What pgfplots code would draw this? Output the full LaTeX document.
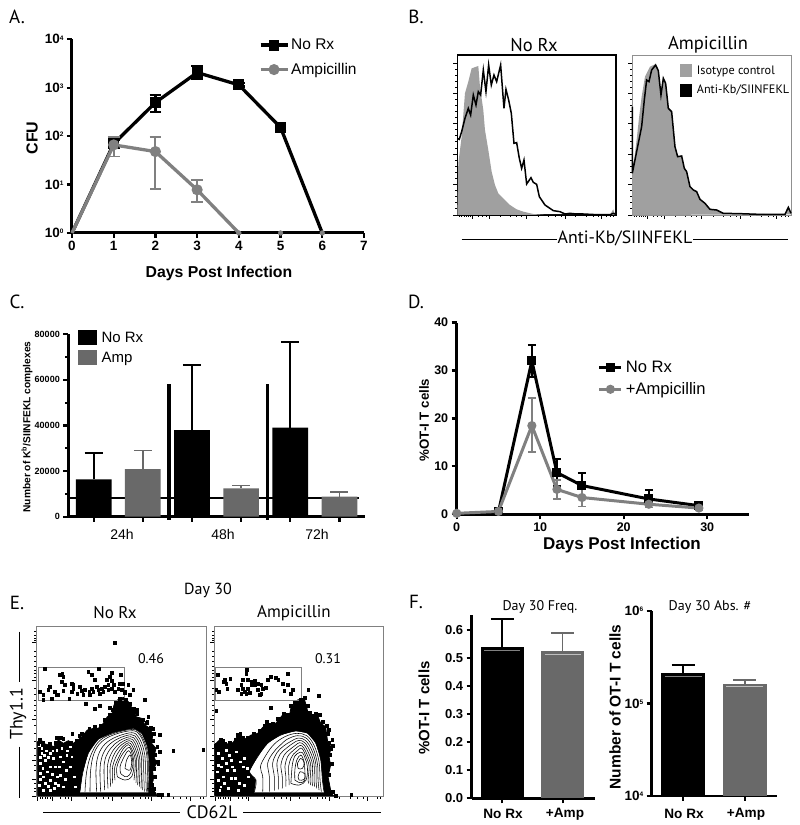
\documentclass[border=0pt]{standalone}
\usepackage{fontspec}
\setmainfont{Liberation Sans}
\newfontfamily\myr{PT Sans}
\usepackage{pgfplots}
\pgfplotsset{compat=1.18}
\newcommand{\fs}[1]{\fontsize{#1}{#1}\selectfont}
\newcommand{\xp}[1]{10\raisebox{3.8pt}{\fs{6.5}#1}}
\definecolor{gl}{HTML}{808080}
\definecolor{gb}{HTML}{696969}
\definecolor{gh}{HTML}{A0A0A0}
\definecolor{gf}{HTML}{909090}
\pgfplotsset{
 prism/.style={scale only axis,clip=false,axis lines=left,axis line style={-,line width=#1,black},
   tick align=outside,tick style={black,line width=2.2pt},major tick length=5pt,
   xminorticks=false,yminorticks=false,scaled ticks=false,
   legend cell align=left,
   legend style={draw=none,fill=none,inner sep=0pt,outer sep=0pt}},
 linekey/.style={legend image code/.code={\draw[##1,mark indices={2}] plot coordinates {(0pt,0pt)(#1/2,0pt)(#1,0pt)};}},
 flow/.style={scale only axis,clip=false,y dir=reverse,ymin=20,ymax=530,xmin=18,xmax=528,
   xticklabels={},yticklabels={},tick align=outside,tick style={black,line width=.7pt},
   major tick length=4pt,minor tick length=2pt,axis line style={gl,line width=.7pt},
   ytick pos=left,xtick pos=left,
   ytick={68,180,298,422,478,528},
   minor ytick={35,45,55,62,95,110,125,140,150,160,172,205,222,240,255,270,285,315,340,365,385,405,435,450,490,505,515},
   xtick={22,68,123,248,365,480},
   minor xtick={30,38,45,52,60,90,105,115,170,200,220,235,275,310,330,345,355,395,430,450,470,510,520}},
 hist/.style={scale only axis,clip=false,y dir=reverse,ymin=15,ymax=495,xmin=22,xmax=498,
   xticklabels={},yticklabels={},tick align=outside,tick style={black,line width=.7pt},
   major tick length=4pt,minor tick length=2pt,legend cell align=left,
   legend style={draw=none,fill=none,inner sep=0pt,outer sep=0pt},
   ytick pos=left,xtick pos=left,
   ytick={40,130,220,313,403,495},
   minor ytick={58,76,94,112,148,166,184,202,238,256,275,294,331,349,367,385,421,439,457,476},
   xtick={68,118,230,345,455},
   minor xtick={28,35,42,48,55,62,85,97,108,150,180,200,215,265,295,315,335,375,410,430,445,470,480,490}},
 cloud/.style={fill=black,draw=black,line width=.8pt,forget plot},
 dots/.style={only marks,mark=square*,mark size=1.35pt,black,mark options={draw=black,fill=black},forget plot},
 spk/.style={only marks,mark=square*,mark size=.9pt,mark options={draw=white,fill=white},forget plot},
 cnt/.style={black,line width=.55pt,smooth,tension=.6,forget plot},
 gate/.style={gl,line width=.9pt,forget plot},
}
\begin{document}
\begin{tikzpicture}
\useasboundingbox (0,0) rectangle (800pt,825pt);
% ---------- Panel letters and free text
\node[font=\myr\fs{19}] at (17pt,808pt) {A.};
\node[font=\myr\fs{19}] at (416pt,808pt) {B.};
\node[font=\myr\fs{19}] at (17pt,523pt) {C.};
\node[font=\myr\fs{19}] at (416pt,523pt) {D.};
\node[font=\myr\fs{19}] at (17pt,222pt) {E.};
\node[font=\myr\fs{19}] at (416pt,223pt) {F.};
% ---------- A
\begin{axis}[prism=3pt,at={(72pt,592pt)},anchor=south west,width=292pt,height=193.7pt,
 xmin=0,xmax=7,ymin=1,ymax=10000,ymode=log,log origin=infty,
 xtick={0,1,2,3,4,5,6,7},ytick={1,10,100,1000,10000},
 xticklabels={0,1,2,3,4,5,6,7},
 yticklabels={\xp{0},\xp{1},\xp{2},\xp{3},\xp{4}},
 tick label style={font=\bfseries\fs{13.5}},
 linekey=27pt,
 legend style={at={(0.64,0.906)},anchor=west,font=\fs{15.5},row sep=8pt}]
\addplot[black,line width=3.3pt,mark=square*,mark size=3.8pt,mark indices={2,3,4,5,6},
 error bars/.cd,y dir=both,y explicit,error bar style={line width=2.3pt},
 error mark options={rotate=90,mark size=5.8pt,line width=2.3pt,black}]
 coordinates {(0,1) (1,70)+=(0,12)-=(0,12) (2,494)+=(0,218)-=(0,182) (3,2055)+=(0,765)-=(0,505) (4,1144)+=(0,90)-=(0,90) (5,151)+=(0,14)-=(0,14) (6,1)};
\addplot[gl,line width=3.3pt,mark=*,mark size=3.8pt,mark options={fill=gl,draw=gl},mark indices={2,3,4},
 error bars/.cd,y dir=both,y explicit,error bar style={line width=1.9pt,gl},
 error mark options={rotate=90,mark size=5.8pt,line width=1.9pt,gl}]
 coordinates {(0,1) (1,66)+=(0,32)-=(0,28) (2,48)+=(0,46)-=(0,40) (3,7.8)+=(0,4.8)-=(0,3.4) (4,1)};
\addplot[gl,only marks,mark=*,mark size=2.4pt,mark options={fill=gl,draw=gl},forget plot] coordinates {(4,1)(5,1)(6,1)};
\legend{No Rx,Ampicillin}
\end{axis}
\node[font=\bfseries\fs{15.8}] at (219pt,552pt) {Days Post Infection};
\node[font=\bfseries\fs{16},rotate=90] at (32pt,687pt) {CFU};
% ---------- B
\begin{axis}[hist,at={(457.3pt,610pt)},anchor=south west,width=158.7pt,height=160pt,axis line style={black,line width=1.2pt}]
\addplot[fill=gh,draw=none,forget plot] coordinates {(22,495)(25,340)(35,260)(45,130)(55,95)(65,55)(85,48)(90,110)(100,180)(105,240)(115,300)(125,365)(135,405)(145,430)(160,445)(180,465)(200,478)(220,485)(250,492)(290,495)(480,495)(486,484)(490,478)(494,495)};
\addplot[black,line width=1.5pt,forget plot] coordinates {(22,265)(28,268)(35,245)(45,205)(55,175)(62,195)(70,135)(78,165)(85,125)(92,135)(100,60)(108,125)(116,45)(124,105)(132,75)(140,95)(152,45)(162,175)(168,118)(176,150)(184,190)(192,280)(200,278)(208,325)(215,355)(222,330)(230,402)(243,383)(250,397)(260,403)(268,440)(285,465)(310,482)(330,485)(345,492)(360,490)(380,492)(400,492)(440,494)(480,494)(490,490)(498,492)};
\end{axis}
\begin{axis}[hist,at={(632.3pt,610pt)},anchor=south west,width=158.7pt,height=160pt,axis line style={gf,line width=.9pt},
 legend image code/.code={\fill[#1,draw=none] (0pt,-6.5pt) rectangle (12pt,6.5pt);},
 legend style={at={(0.30,0.84)},anchor=west,font=\myr\fs{12.2},row sep=5.5pt},
 legend style={/tikz/every odd column/.append style={column sep=3pt}}]
\addlegendimage{fill=gh}
\addlegendimage{fill=black}
\addplot[fill=gh,draw=none,forget plot] coordinates {(22,495)(22,370)(25,350)(35,270)(42,205)(50,140)(60,80)(75,50)(90,43)(100,60)(108,135)(115,85)(122,100)(130,175)(140,185)(150,290)(158,320)(170,318)(178,355)(185,365)(195,410)(205,420)(215,425)(225,448)(240,460)(255,478)(275,480)(295,490)(480,493)(490,475)(498,493)};
\addplot[black,line width=1.5pt,forget plot] coordinates {(22,170)(22,370)(32,320)(42,270)(50,230)(58,150)(65,90)(72,95)(80,60)(92,45)(100,62)(108,135)(115,85)(122,100)(130,175)(140,185)(150,290)(158,320)(170,318)(178,355)(185,365)(195,410)(205,420)(215,425)(225,448)(240,460)(255,478)(275,480)(295,490)(345,491)(400,493)(480,493)(490,472)(498,490)};
\legend{Isotype control,Anti-Kb/SIINFEKL}
\end{axis}
\node[font=\myr\fs{18.5}] at (534pt,780pt) {No Rx};
\node[font=\myr\fs{18.5}] at (708pt,780pt) {Ampicillin};
\node[font=\myr\fs{17.8}] at (625pt,587pt) {Anti-Kb/SIINFEKL};
\draw[line width=.9pt] (461.7pt,586pt) -- (556.7pt,586pt) (693pt,586pt) -- (788pt,586pt);
% ---------- C
\begin{axis}[prism=2.4pt,at={(68.3pt,308.3pt)},anchor=south west,width=296.7pt,height=182.4pt,
 xmin=-0.516,xmax=5.52,ymin=0,ymax=80000,
 xtick={0,1,2,3,4,5},xticklabels={},
 ytick={0,20000,40000,60000,80000},yticklabels={0,20000,40000,60000,80000},
 yminorticks=true,minor y tick num=1,minor tick length=3pt,
 tick label style={font=\bfseries\fs{9}},
 legend image code/.code={\fill[#1,draw=none] (0pt,-7.5pt) rectangle (19pt,7.5pt);},
 legend style={at={(0.031,1.024)},anchor=north west,font=\fs{15},row sep=4pt},
 legend style={/tikz/every odd column/.append style={column sep=3pt}}]
\addlegendimage{fill=black}
\addlegendimage{fill=gb}
\addplot[black,line width=2pt,forget plot] coordinates {(-0.516,8044)(5.39,8044)};
\addplot[black,line width=3.3pt,forget plot] coordinates {(1.533,58060)(1.533,-1460)};
\addplot[black,line width=3.3pt,forget plot] coordinates {(3.535,58060)(3.535,-1460)};
\addplot[ybar,bar width=0.726,bar shift=0pt,fill=black,draw=none,forget plot,
 error bars/.cd,y dir=plus,y explicit,error bar style={line width=1.9pt,black},
 error mark options={rotate=90,mark size=9pt,line width=1.9pt,black}]
 coordinates {(0,16380)+=(0,11700) (2,38000)+=(0,28700) (4,39050)+=(0,37450)};
\addplot[ybar,bar width=0.726,bar shift=0pt,fill=gb,draw=none,forget plot,
 error bars/.cd,y dir=plus,y explicit,error bar style={line width=1.5pt,gb},
 error mark options={rotate=90,mark size=9pt,line width=1.5pt,gb}]
 coordinates {(1,20900)+=(0,8200) (3,12430)+=(0,1170) (5,8775)+=(0,2025)};
\legend{No Rx,Amp}
\end{axis}
\node[font=\fs{14}] at (122pt,291pt) {24h};
\node[font=\fs{14}] at (223pt,291pt) {48h};
\node[font=\fs{14}] at (317pt,291pt) {72h};
\node[font=\bfseries\fs{10.2},rotate=90] at (27pt,398pt) {Number of K\textsuperscript{b}/SIINFEKL complexes};
% ---------- D
\begin{axis}[prism=2.8pt,at={(456.7pt,310.7pt)},anchor=south west,width=292.3pt,height=191.7pt,
 xmin=0,xmax=35,ymin=0,ymax=40,
 xtick={0,10,20,30},xticklabels={0,10,20,30},
 ytick={0,10,20,30,40},yticklabels={0,10,20,30,40},
 tick label style={font=\bfseries\fs{12.5}},
 linekey=22pt,
 legend style={at={(0.483,0.708)},anchor=west,font=\fs{16.6},row sep=4.5pt},
 legend style={/tikz/every odd column/.append style={column sep=1pt}}]
\addplot[black,line width=3pt,mark=square*,mark size=3pt,
 error bars/.cd,y dir=both,y explicit,error bar style={line width=1.8pt},
 error mark options={rotate=90,mark size=4pt,line width=1.8pt,black}]
 coordinates {(5,0.5) (9,32)+=(0,3.3)-=(0,3.3) (12,8.7)+=(0,2.8)-=(0,2.8) (15,6)+=(0,2.7)-=(0,2.7) (23,3.2)+=(0,1.8)-=(0,1.8) (29,1.8)+=(0,.4)-=(0,.4)};
\addplot[gl,line width=3pt,mark=*,mark size=3pt,mark options={fill=gl,draw=gl},
 error bars/.cd,y dir=both,y explicit,error bar style={line width=1.7pt,gl},
 error mark options={rotate=90,mark size=4pt,line width=1.7pt,gl}]
 coordinates {(0,0.2) (5,0.6) (9,18.5)+=(0,5.8)-=(0,5.5) (12,5.2)+=(0,2)-=(0,2) (15,3.5)+=(0,2)-=(0,1.9) (23,2.1)+=(0,.7)-=(0,.7) (29,1.3)+=(0,.4)-=(0,.4)};
\legend{No Rx,+Ampicillin}
\end{axis}
\node[font=\bfseries\fs{17}] at (622pt,280pt) {Days Post Infection};
\node[font=\bfseries\fs{13.3},rotate=90] at (424pt,405pt) {\%OT-I T cells};
% ---------- E panel 1
\begin{axis}[flow,at={(36pt,28.3pt)},anchor=south west,width=170pt,height=170pt]
\addplot[cloud] coordinates {(22,525)(22,365)(35,362)(45,372)(58,375)(72,380)(85,360)(100,370)(115,362)(130,370)(150,355)(160,345)(172,330)(190,325)(205,325)(220,310)(232,290)(245,285)(252,255)(262,240)(280,232)(295,245)(305,262)(315,268)(318,290)(335,295)(345,315)(360,325)(368,345)(365,370)(378,385)(372,410)(380,430)(368,450)(370,480)(362,500)(378,520)(380,528)(22,528)};
\addplot[fill=white,draw=none,forget plot] coordinates {(150,517)(158,460)(175,400)(205,358)(250,338)(310,325)(335,340)(352,380)(358,430)(355,517)};
\addplot[spk] coordinates {(35,385)(35,400)(48,392)(45,420)(60,440)(75,440)(30,460)(45,490)(60,480)(75,490)(90,465)(30,430)(110,405)(90,410)(60,400)(120,440)(135,500)(40,510)(28,495)(70,415)(82,470)(60,510)(105,478)(100,500)(80,390)(120,380)
 (28,375)(30,412)(42,405)(55,412)(38,445)(52,455)(66,462)(30,478)(40,470)(72,505)(85,495)(88,440)(100,425)(68,392)(95,385)(108,450)(125,410)(133,470)(55,498)(112,392)};
\addplot[dots] coordinates {(45,147)(97,160)(90,165)(100,170)(175,155)(207,147)(185,165)(195,178)(245,157)(240,170)(273,163)(230,178)(245,183)(270,190)(280,192)(95,185)(105,195)(125,190)(130,195)(150,200)(60,200)(55,210)(30,215)(40,225)(75,215)(85,225)(100,212)(130,205)(125,215)(142,222)(155,212)(165,210)(178,215)(180,225)(190,215)(205,210)(215,205)(225,200)(235,195)(245,205)(252,195)(210,220)(220,215)(235,210)(255,215)(265,205)(275,210)(285,215)(65,235)(80,225)(118,235)(160,225)(185,205)(200,200)(40,240)(255,68)(168,252)(195,265)(210,258)(345,238)(310,210)(295,195)(240,285)(430,393)(520,388)(355,290)(390,345)(390,395)(415,525)(395,525)(80,353)(127,340)(100,355)(300,225)(320,268)(285,218)(385,430)(372,505)(30,360)(60,372)(352,305)(368,325)};
\addplot[dots] coordinates {(25,372)(40,368)(52,380)(66,383)(78,368)(92,352)(108,375)(122,368)(140,362)(155,340)(165,350)(178,325)(195,320)(212,318)(225,300)(238,283)(247,270)(258,248)(270,236)(288,238)(300,252)(312,265)(322,282)(340,298)(350,308)(363,322)(372,340)(368,362)(382,380)(376,405)(384,425)(372,445)(374,470)(366,495)(385,523)(240,262)(262,262)(232,305)(148,348)};
\addplot[gate] coordinates {(25,142)(283,142)(283,242)(25,242)(25,142)};
\addplot[cnt] coordinates {(150,515)(158,460)(175,400)(205,358)(250,338)(310,325)(335,340)(352,380)(358,430)(355,515)};
\addplot[cnt] coordinates {(165,515)(170,455)(184,402)(210,361)(252,340)(309,328)(332,343)(349,382)(355,430)(352,515)};
\addplot[cnt] coordinates {(180,515)(182,450)(192,400)(215,365)(255,343)(308,332)(330,346)(346,384)(352,430)(350,515)};
\addplot[cnt] coordinates {(200,515)(198,450)(205,405)(225,372)(260,350)(306,338)(326,352)(341,388)(346,430)(344,515)};
\addplot[cnt] coordinates {(212,515)(210,450)(216,410)(234,378)(264,356)(304,344)(322,357)(336,392)(340,430)(338,510)};
\addplot[cnt] coordinates {(224,510)(222,450)(226,415)(243,384)(268,362)(302,350)(318,362)(331,396)(335,430)(333,505)};
\addplot[cnt] coordinates {(234,505)(232,450)(236,420)(250,390)(272,368)(300,356)(314,367)(326,400)(330,430)(328,500)};
\addplot[cnt] coordinates {(242,500)(240,450)(244,424)(256,396)(275,374)(298,362)(310,372)(322,404)(325,430)(323,495)};
\addplot[cnt] coordinates {(248,490)(247,450)(251,428)(262,402)(278,380)(296,368)(307,378)(318,408)(320,432)(318,488)};
\addplot[cnt] coordinates {(255,480)(253,450)(258,430)(268,408)(280,386)(295,374)(304,384)(314,410)(316,435)(312,480)};
\addplot[cnt] coordinates {(262,470)(260,445)(270,415)(285,392)(298,382)(308,405)(312,435)(305,470)(285,480)(262,470)};
\addplot[cnt] coordinates {(272,460)(270,440)(280,415)(295,392)(306,410)(308,440)(298,465)(285,470)(272,460)};
\addplot[cnt] coordinates {(285,445)(290,420)(300,405)(305,425)(300,450)(285,445)};
\end{axis}
% ---------- E panel 2
\begin{axis}[flow,at={(214pt,28.3pt)},anchor=south west,width=169pt,height=170pt]
\addplot[cloud] coordinates {(20,525)(20,375)(32,362)(42,365)(60,372)(75,368)(95,340)(110,358)(130,345)(150,340)(165,322)(180,310)(200,315)(225,285)(245,290)(250,265)(270,240)(290,235)(298,262)(302,282)(330,285)(340,310)(355,320)(358,345)(362,370)(372,380)(365,410)(370,435)(362,470)(372,520)(380,528)(20,528)};
\addplot[fill=white,draw=none,forget plot] coordinates {(140,517)(145,480)(125,455)(150,410)(180,370)(220,345)(265,333)(300,340)(325,370)(340,420)(345,480)(350,517)};
\addplot[spk] coordinates {(30,435)(40,440)(55,430)(70,420)(45,470)(70,475)(30,480)(85,395)(35,510)(60,505)(95,490)(120,470)(105,440)(80,450)(55,390)(30,400)(110,415)
 (42,415)(28,455)(58,450)(72,440)(48,490)(82,475)(92,510)(110,495)(65,405)(98,425)(38,500)(118,445)};
\addplot[dots] coordinates {(30,165)(50,178)(47,185)(55,190)(58,205)(67,175)(25,210)(32,215)(117,150)(115,160)(105,180)(120,180)(130,185)(140,183)(100,195)(90,208)(105,205)(110,215)(120,205)(130,195)(140,195)(150,190)(160,195)(175,203)(165,205)(150,210)(155,225)(160,220)(125,218)(115,222)(100,220)(180,180)(190,170)(205,172)(212,180)(240,160)(225,190)(240,195)(230,212)(255,210)(250,222)(302,208)(335,228)(190,263)(25,272)(432,525)(285,240)(270,248)(97,342)(185,315)(375,358)(372,385)(365,330)(338,285)(45,362)(25,375)};
\addplot[dots] coordinates {(24,378)(38,360)(50,370)(66,368)(82,360)(90,345)(105,352)(120,352)(138,340)(155,333)(170,318)(178,305)(195,312)(210,295)(228,282)(240,285)(250,258)(262,248)(278,238)(292,232)(300,258)(306,278)(325,282)(345,305)(358,318)(362,340)(366,368)(376,378)(369,405)(374,430)(366,465)(376,515)(385,526)(228,288)(215,300)};
\addplot[gate] coordinates {(22,142)(283,142)(283,242)(22,242)(22,142)};
\addplot[cnt] coordinates {(140,515)(145,480)(125,455)(150,410)(180,370)(220,345)(265,333)(300,340)(325,370)(340,420)(345,480)(350,515)};
\addplot[cnt] coordinates {(165,515)(165,470)(158,440)(175,405)(200,372)(232,350)(267,340)(298,347)(320,376)(335,425)(338,480)(342,515)};
\addplot[cnt] coordinates {(185,515)(185,470)(180,430)(195,400)(215,378)(240,357)(270,347)(296,354)(316,382)(330,430)(332,480)(335,510)};
\addplot[cnt] coordinates {(200,512)(200,470)(195,430)(208,398)(228,378)(250,364)(272,354)(294,361)(312,388)(325,430)(326,480)(328,505)};
\addplot[cnt] coordinates {(212,508)(212,470)(208,430)(218,402)(237,384)(256,370)(274,361)(292,368)(308,394)(320,432)(320,480)(322,500)};
\addplot[cnt] coordinates {(224,505)(224,470)(220,435)(230,405)(245,390)(262,377)(276,368)(290,375)(304,400)(315,434)(314,480)(316,498)};
\addplot[cnt] coordinates {(235,500)(235,470)(232,440)(240,410)(252,396)(266,384)(278,376)(288,382)(300,406)(310,436)(308,480)(310,495)};
\addplot[cnt] coordinates {(245,495)(244,470)(243,440)(250,415)(258,402)(270,392)(280,384)(287,390)(296,410)(305,438)(302,480)(304,490)};
\addplot[cnt] coordinates {(250,490)(252,460)(255,430)(262,408)(275,398)(285,398)(293,415)(300,440)(296,480)(275,495)(250,490)};
\addplot[cnt] coordinates {(262,480)(262,450)(268,420)(280,405)(290,425)(292,450)(292,480)(278,488)(262,480)};
\addplot[cnt] coordinates {(272,470)(278,455)(292,462)(290,478)(275,480)(272,470)};
\addplot[cnt] coordinates {(270,430)(280,415)(290,428)(285,445)(272,445)(270,430)};
\end{axis}
\node[font=\myr\fs{16}] at (208pt,235pt) {Day 30};
\node[font=\myr\fs{17}] at (115pt,212pt) {No Rx};
\node[font=\myr\fs{17}] at (294pt,212pt) {Ampicillin};
\node[font=\myr\fs{14}] at (151pt,166pt) {0.46};
\node[font=\myr\fs{14}] at (328pt,166pt) {0.31};
\node[font=\myr\fs{18},rotate=90] at (18pt,111pt) {Thy1.1};
\draw[line width=.9pt] (19pt,193.3pt) -- (19pt,143.3pt) (19pt,78.3pt) -- (19pt,27pt);
\node[font=\myr\fs{18}] at (212pt,13pt) {CD62L};
\draw[line width=.9pt] (43pt,13pt) -- (180pt,13pt) (243pt,13pt) -- (381pt,13pt);
% ---------- F left
\begin{axis}[prism=2.8pt,at={(471.7pt,26.7pt)},anchor=south west,width=123.3pt,height=183.2pt,
 xmin=-0.508,xmax=1.536,ymin=0,ymax=0.653,
 xtick={0,1},xticklabels={},
 ytick={0,0.1,0.2,0.3,0.4,0.5,0.6},yticklabels={0.0,0.1,0.2,0.3,0.4,0.5,0.6},
 tick label style={font=\bfseries\fs{13}}]
\addplot[ybar,bar width=0.718,bar shift=0pt,fill=black,draw=none,forget plot,
 error bars/.cd,y dir=plus,y explicit,error bar style={line width=2pt,black},
 error mark options={rotate=90,mark size=11.5pt,line width=2pt,black}]
 coordinates {(0,0.539)+=(0,0.099)};
\addplot[ybar,bar width=0.718,bar shift=0pt,fill=gb,draw=none,forget plot,
 error bars/.cd,y dir=plus,y explicit,error bar style={line width=1.6pt,gb},
 error mark options={rotate=90,mark size=11.5pt,line width=1.6pt,gb}]
 coordinates {(1,0.524)+=(0,0.065)};
\addplot[gray,line width=.7pt,forget plot] coordinates {(-0.3,0.528)(0.3,0.528)};
\addplot[lightgray,line width=.7pt,forget plot] coordinates {(0.7,0.512)(1.3,0.512)};
\end{axis}
\node[font=\myr\fs{14}] at (540pt,218pt) {Day 30 Freq.};
\node[font=\bfseries\fs{15},rotate=90] at (424pt,117pt) {\%OT-I T cells};
\node[font=\bfseries\fs{13.6}] at (503pt,11pt) {No Rx};
\node[font=\bfseries\fs{13.6}] at (565pt,11pt) {+Amp};
% ---------- F right
\begin{axis}[prism=2.8pt,at={(651.7pt,29pt)},anchor=south west,width=125pt,height=185pt,
 xmin=-0.508,xmax=1.519,ymin=10000,ymax=1000000,ymode=log,log origin=infty,
 xtick={0,1},xticklabels={},
 ytick={10000,100000,1000000},yticklabels={\xp{4},\xp{5},\xp{6}},
 tick label style={font=\bfseries\fs{13.5}}]
\addplot[ybar,bar width=0.714,bar shift=0pt,fill=black,draw=none,forget plot,
 error bars/.cd,y dir=plus,y explicit,error bar style={line width=2pt,black},
 error mark options={rotate=90,mark size=11.5pt,line width=2pt,black}]
 coordinates {(0,214000)+=(0,45000)};
\addplot[ybar,bar width=0.714,bar shift=0pt,fill=gb,draw=none,forget plot,
 error bars/.cd,y dir=plus,y explicit,error bar style={line width=1.6pt,gb},
 error mark options={rotate=90,mark size=11.5pt,line width=1.6pt,gb}]
 coordinates {(1,164000)+=(0,15000)};
\addplot[gray,line width=.7pt,forget plot] coordinates {(-0.3,198000)(0.3,198000)};
\addplot[lightgray,line width=.7pt,forget plot] coordinates {(0.7,155000)(1.3,155000)};
\end{axis}
\node[font=\myr\fs{14}] at (710pt,218pt) {Day 30 Abs. \#};
\node[font=\bfseries\fs{15.5},rotate=90] at (615pt,118pt) {Number of OT-I T cells};
\node[font=\bfseries\fs{13.6}] at (684pt,11pt) {No Rx};
\node[font=\bfseries\fs{13.6}] at (746pt,11pt) {+Amp};
\end{tikzpicture}
\end{document}
